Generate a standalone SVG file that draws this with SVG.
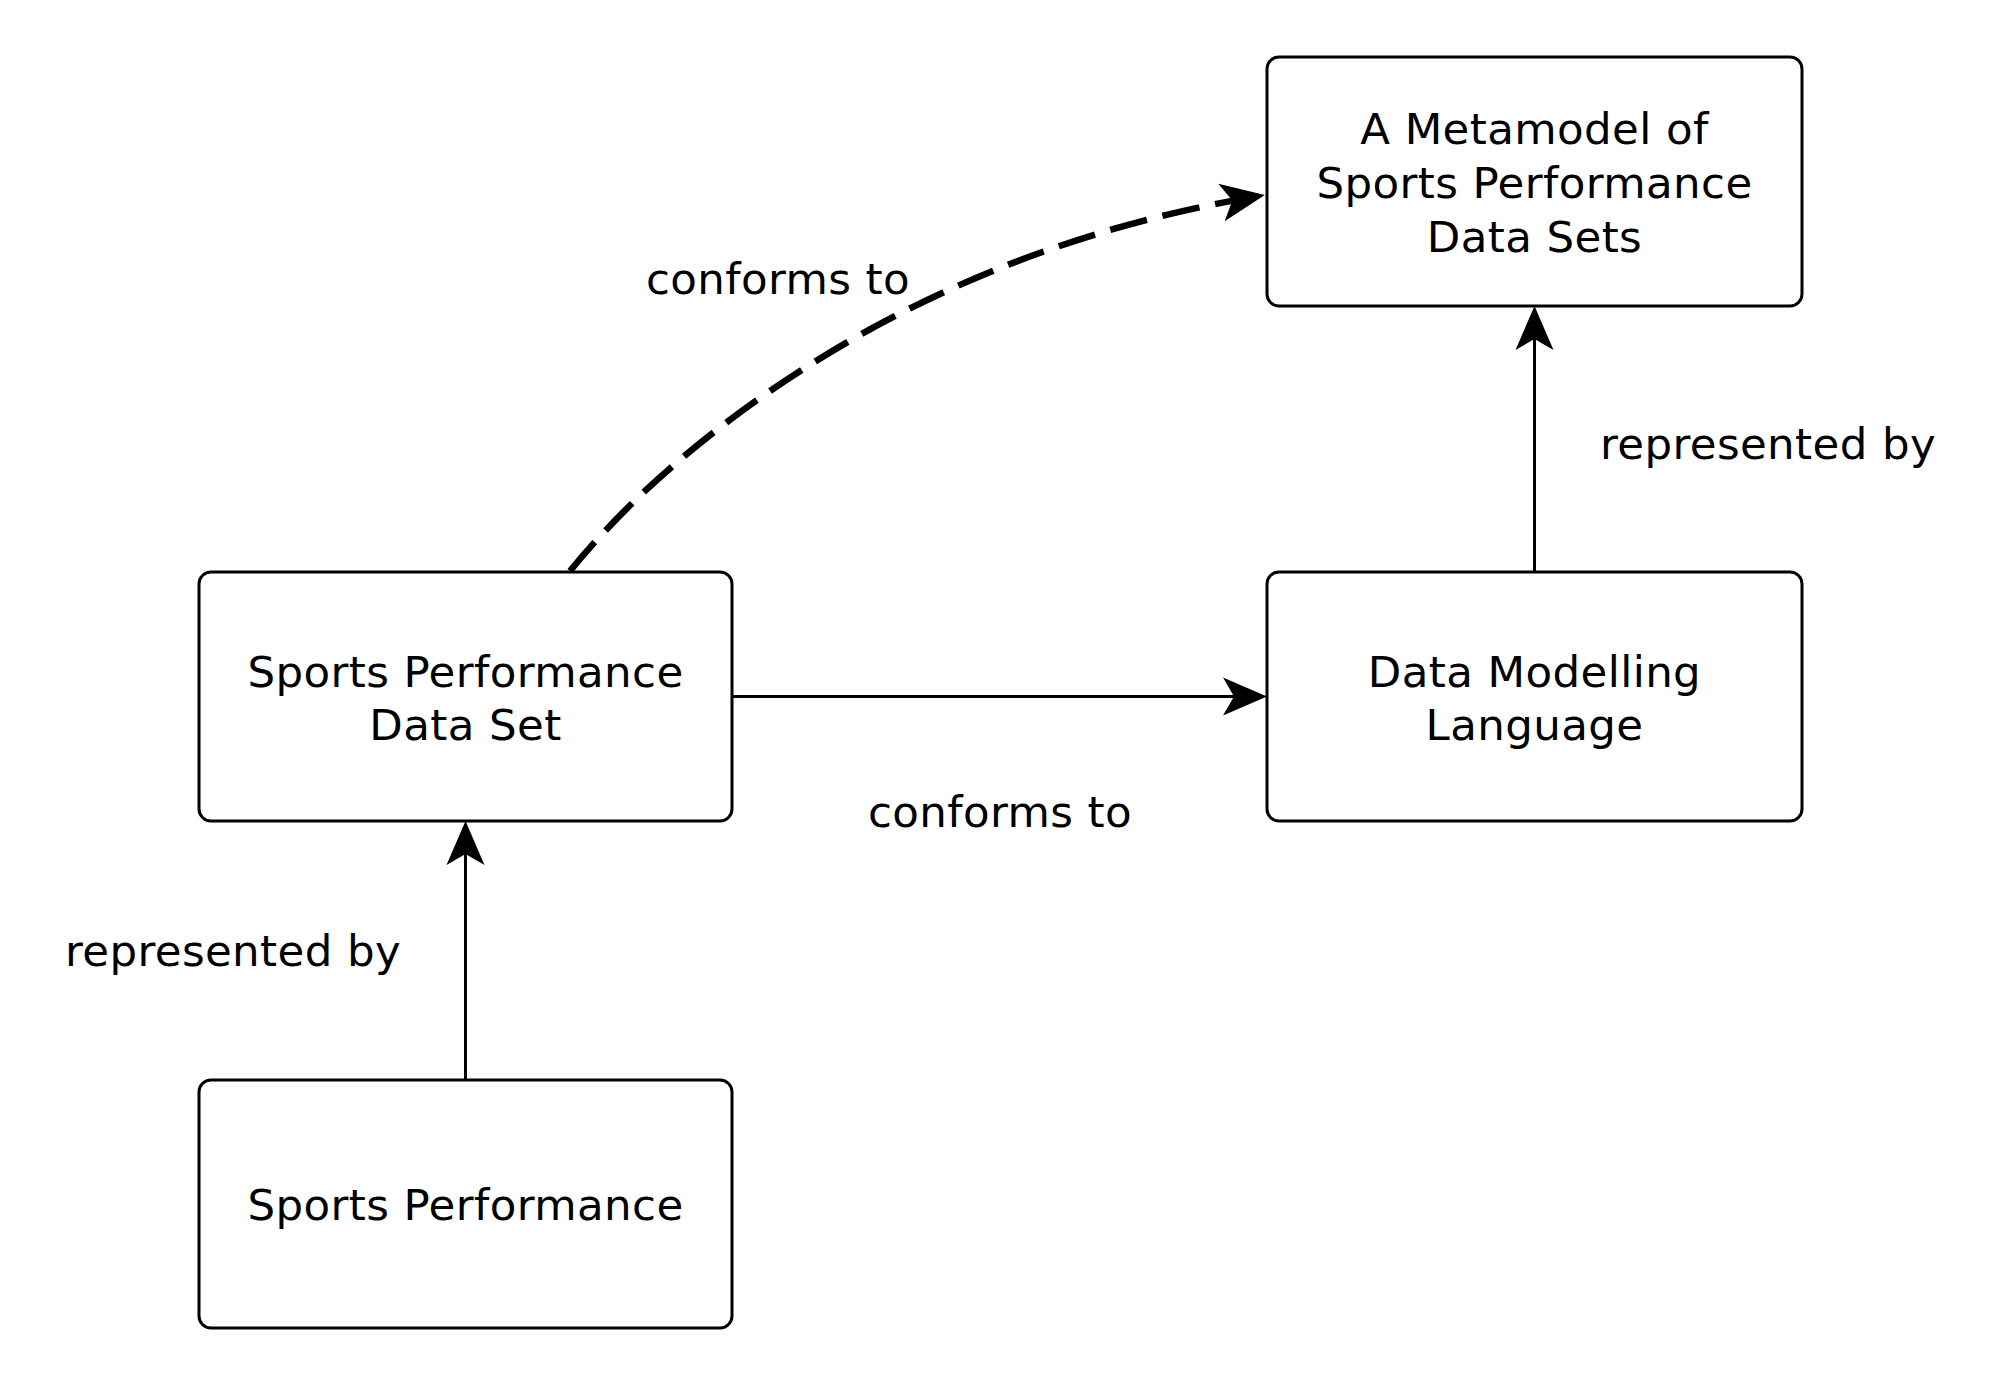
<svg xmlns="http://www.w3.org/2000/svg" width="2000" height="1385" viewBox="0 0 2000 1385">
<style>
.box{fill:#fff;stroke:#000;stroke-width:3}
.t{font-family:"DejaVu Sans",sans-serif;font-size:43.5px;letter-spacing:0.4px;fill:#000;text-anchor:middle}
.c{fill:none;stroke:#000;stroke-width:3}
.d{fill:none;stroke:#000;stroke-width:6.5;stroke-dasharray:38 16}
</style>
<defs>
<marker id="arr" markerUnits="userSpaceOnUse" orient="auto" overflow="visible" markerWidth="1" markerHeight="1" refX="0" refY="0">
<path d="M10,0 L-34,-19 L-23,0 L-34,19 Z" fill="#000"/>
</marker>
</defs>
<rect width="2000" height="1385" fill="#fff"/>
<g id="connectors">
<path class="c" d="M465.5,1080 L465.5,831" marker-end="url(#arr)"/>
<path class="c" d="M732,696.5 L1257,696.5" marker-end="url(#arr)"/>
<path class="c" d="M1534.5,572 L1534.5,316" marker-end="url(#arr)"/>
<path class="d" d="M570,571 C646,478 747,400 851,340 C977,268 1112,221 1255,196.7" marker-end="url(#arr)"/>
<text class="t" x="233" y="966">represented by</text>
<text class="t" x="1768" y="459">represented by</text>
<text class="t" x="1000" y="827">conforms to</text>
<text class="t" x="778" y="294">conforms to</text>
</g>
<g id="metamodel">
<rect class="box" x="1267" y="57" width="535" height="249" rx="12"/>
<text class="t" x="1534.5" y="144">A Metamodel of</text>
<text class="t" x="1534.5" y="198">Sports Performance</text>
<text class="t" x="1534.5" y="252">Data Sets</text>
</g>
<g id="dataset">
<rect class="box" x="199" y="572" width="533" height="249" rx="12"/>
<text class="t" x="465.5" y="687">Sports Performance</text>
<text class="t" x="465.5" y="740">Data Set</text>
</g>
<g id="language">
<rect class="box" x="1267" y="572" width="535" height="249" rx="12"/>
<text class="t" x="1534.5" y="687">Data Modelling</text>
<text class="t" x="1534.5" y="740">Language</text>
</g>
<g id="performance">
<rect class="box" x="199" y="1080" width="533" height="248" rx="12"/>
<text class="t" x="465.5" y="1220">Sports Performance</text>
</g>
</svg>
